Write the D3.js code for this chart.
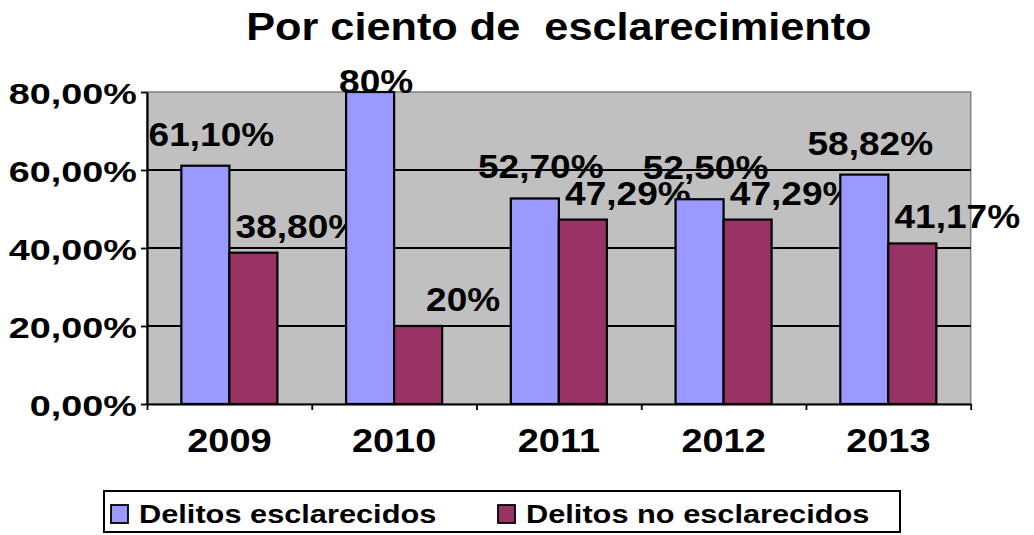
<!DOCTYPE html>
<html>
<head>
<meta charset="utf-8">
<script src="https://cdnjs.cloudflare.com/ajax/libs/d3/7.8.5/d3.min.js"></script>
<style>
  html, body { margin: 0; padding: 0; background: #ffffff; }
  svg { display: block; }
  text { font-family: "Liberation Sans", Arial, sans-serif; font-weight: bold; fill: #000; }
</style>
</head>
<body>
<svg id="chart"></svg>
<script>
//*************** data ******************//
var years = ["2009", "2010", "2011", "2012", "2013"];
var seriesNames = ["Delitos esclarecidos", "Delitos no esclarecidos"];
var esclarecidos = [61.10, 80, 52.70, 52.50, 58.82];
var noEsclarecidos = [38.80, 20, 47.29, 47.29, 41.17];
var labelsEsclarecidos = ["61,10%", "80%", "52,70%", "52,50%", "58,82%"];
var labelsNoEsclarecidos = ["38,80%", "20%", "47,29%", "47,29%", "41,17%"];
var yTicks = [0, 20, 40, 60, 80];
var titleText = "Por ciento de  esclarecimiento";

//*************** parameters ******************//
var W = 1034, H = 535;
var plot = {left: 147, right: 970.7, top: 92, bottom: 404};
var colors = ["#9999FF", "#993366"];
var labelShift = [6, 45];   // excel placed the labels a bit off-centre
var labelLift = [20, 15];   // distance from bar top to label baseline

var svg = d3.select("#chart").attr("width", W).attr("height", H);

// scales
var x0 = d3.scaleBand().domain(years).range([plot.left, plot.right])
  .paddingInner(0.417).paddingOuter(0.2085);
var x1 = d3.scaleBand().domain(seriesNames).range([0, x0.bandwidth()]);
var xEdge = d3.scaleLinear().domain([0, years.length]).range([plot.left, plot.right]);
var y = d3.scaleLinear().domain([0, 80]).range([plot.bottom, plot.top]);

// rows for the bars / labels
var rows = years.map(function(yr, i) {
  return [
    {year: yr, s: 0, value: esclarecidos[i], label: labelsEsclarecidos[i]},
    {year: yr, s: 1, value: noEsclarecidos[i], label: labelsNoEsclarecidos[i]}
  ];
});
var flat = d3.merge(rows);

//--------------- plot area
svg.append("rect")
  .attr("x", plot.left).attr("y", plot.top)
  .attr("width", plot.right - plot.left).attr("height", plot.bottom - plot.top)
  .attr("fill", "#C0C0C0")
  .attr("stroke", "#808080").attr("stroke-width", 1.5);

// gridlines
svg.append("g").selectAll("line")
  .data(yTicks.filter(function(d) { return d > 0 && d < 80; }))
  .enter().append("line")
  .attr("x1", plot.left).attr("x2", plot.right)
  .attr("y1", function(d) { return y(d); }).attr("y2", function(d) { return y(d); })
  .attr("stroke", "#000").attr("stroke-width", 1.8);

//--------------- data labels (drawn under the bars, as in the original)
svg.append("g").selectAll("text")
  .data(flat)
  .enter().append("text")
  .attr("text-anchor", "middle")
  .attr("font-size", 34)
  .attr("transform", function(d) {
    var cx = x0(d.year) + x1(seriesNames[d.s]) + x1.bandwidth() / 2 + labelShift[d.s];
    var by = Math.max(y(d.value) - labelLift[d.s], plot.top + 1);
    return "translate(" + cx + "," + by + ") scale(1.09,1)";
  })
  .text(function(d) { return d.label; });

//--------------- bars
svg.append("g").selectAll("rect")
  .data(flat)
  .enter().append("rect")
  .attr("x", function(d) { return x0(d.year) + x1(seriesNames[d.s]); })
  .attr("y", function(d) { return y(d.value); })
  .attr("width", x1.bandwidth())
  .attr("height", function(d) { return plot.bottom - y(d.value); })
  .attr("fill", function(d) { return colors[d.s]; })
  .attr("stroke", "#000").attr("stroke-width", 2.2);

//--------------- y axis
var yAxis = svg.append("g")
  .attr("transform", "translate(" + plot.left + ",0)")
  .call(d3.axisLeft(y).tickValues(yTicks).tickSize(6).tickSizeOuter(0)
    .tickFormat(function(d) { return d.toFixed(2).replace(".", ",") + "%"; }));
yAxis.select(".domain").attr("stroke", "#000").attr("stroke-width", 2.2);
yAxis.selectAll(".tick line").attr("stroke", "#000").attr("stroke-width", 1.8);
yAxis.selectAll(".tick text")
  .attr("font-size", 30).attr("font-family", null)
  .attr("x", -8).attr("dy", "0.38em")
  .attr("transform", "scale(1.26,1)");

//--------------- x axis
var xAxis = svg.append("g")
  .attr("transform", "translate(0," + plot.bottom + ")")
  .call(d3.axisBottom(xEdge).tickValues(d3.range(years.length + 1)).tickSize(6)
    .tickSizeOuter(0).tickFormat(""));
xAxis.select(".domain").attr("stroke", "#000").attr("stroke-width", 2.2);
xAxis.selectAll(".tick line").attr("stroke", "#000").attr("stroke-width", 1.8);

svg.append("g").selectAll("text")
  .data(years)
  .enter().append("text")
  .attr("text-anchor", "middle")
  .attr("font-size", 33)
  .attr("transform", function(d) {
    return "translate(" + (x0(d) + x0.bandwidth() / 2) + ",452) scale(1.15,1)";
  })
  .text(function(d) { return d; });

//--------------- title
svg.append("text")
  .attr("text-anchor", "middle")
  .attr("font-size", 39)
  .style("white-space", "pre")
  .attr("transform", "translate(" + ((plot.left + plot.right) / 2) + ",40) scale(1.11,1)")
  .text(titleText);

//--------------- legend
var legend = svg.append("g").attr("class", "legend");
legend.append("rect")
  .attr("x", 104).attr("y", 491).attr("width", 796).attr("height", 41)
  .attr("fill", "#fff").attr("stroke", "#000").attr("stroke-width", 2);

var legendX = [111, 498];
var items = legend.selectAll("g.item")
  .data(seriesNames)
  .enter().append("g").attr("class", "item")
  .attr("transform", function(d, i) { return "translate(" + legendX[i] + ",0)"; });
items.append("rect")
  .attr("x", 0).attr("y", 505).attr("width", 17).attr("height", 18)
  .attr("fill", function(d, i) { return colors[i]; })
  .attr("stroke", "#000").attr("stroke-width", 1.8);
items.append("text")
  .attr("font-size", 25)
  .attr("transform", "translate(28,523) scale(1.23,1)")
  .text(function(d) { return d; });
</script>
</body>
</html>
